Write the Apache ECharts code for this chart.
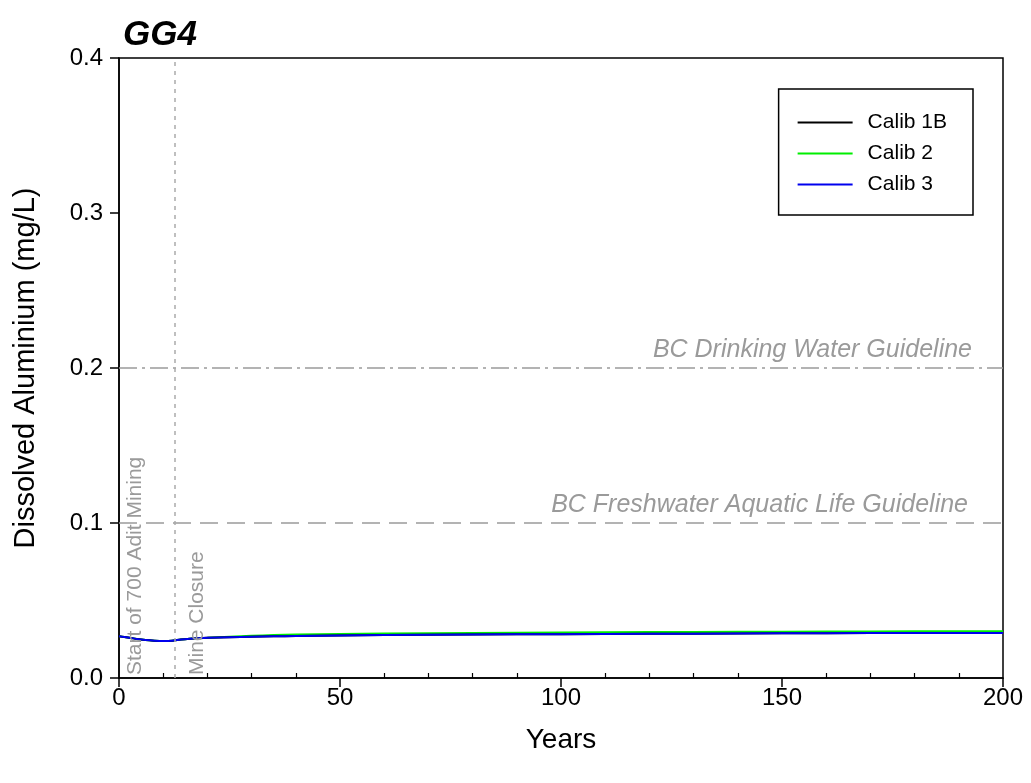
<!DOCTYPE html>
<html>
<head>
<meta charset="utf-8">
<script src="https://cdn.jsdelivr.net/npm/echarts@6/dist/echarts.min.js"></script>
<style>html,body{margin:0;padding:0;background:#fff}#c{width:1031px;height:783px}</style>
</head>
<body>
<div id="c"></div>
<script>
const years      = [0, 2, 4, 6, 8, 10, 12, 14, 16, 18, 20, 25, 30, 35, 40, 50, 60, 80, 100, 120, 140, 160, 180, 200];
const calib1B    = [0.0270, 0.0262, 0.0252, 0.0245, 0.0241, 0.0239, 0.0241, 0.0249, 0.0254, 0.0257, 0.0259, 0.0263, 0.0266, 0.0269, 0.0271, 0.0274, 0.0277, 0.0280, 0.0283, 0.0285, 0.0287, 0.0289, 0.0290, 0.0291];
const calib2     = [0.0270, 0.0262, 0.0252, 0.0245, 0.0241, 0.0239, 0.0241, 0.0249, 0.0254, 0.0257, 0.0259, 0.0266, 0.0272, 0.0277, 0.0280, 0.0284, 0.0287, 0.0291, 0.0294, 0.0296, 0.0298, 0.0300, 0.0301, 0.0302];
const calib3     = [0.0270, 0.0262, 0.0252, 0.0245, 0.0241, 0.0239, 0.0241, 0.0249, 0.0254, 0.0257, 0.0259, 0.0263, 0.0266, 0.0269, 0.0271, 0.0274, 0.0277, 0.0280, 0.0283, 0.0285, 0.0287, 0.0289, 0.0290, 0.0291];
const seriesNames = ['Calib 1B', 'Calib 2', 'Calib 3'];
const drinkingGuideline = 0.2;
const aquaticGuideline = 0.1;
const mineClosureYear = 12.5;
const startLabelYear = 3.6;
const closureLabelYear = 17.6;
const xTicks = [0, 50, 100, 150, 200];
const yTicks = [0.0, 0.1, 0.2, 0.3, 0.4];

const FONT = 'Liberation Sans, Arial, sans-serif';
const GRAY = '#9a9a9a';
const chart = echarts.init(document.getElementById('c'), null, {renderer: 'canvas'});

function pairs(vals) { return years.map((y, i) => [y, vals[i]]); }

const option = {
  animation: false,
  backgroundColor: '#fff',
  title: {
    text: 'GG4', left: 118, top: 13,
    textStyle: {fontFamily: FONT, fontSize: 35, fontWeight: 'bold', fontStyle: 'italic', color: '#000'}
  },
  grid: {left: 119, right: 28, top: 58, bottom: 105, show: true, borderColor: '#000', borderWidth: 1.5, backgroundColor: 'transparent'},
  legend: {
    data: seriesNames,
    orient: 'vertical', right: 58, top: 89,
    borderColor: '#000', borderWidth: 1.5, backgroundColor: '#fff',
    padding: [23, 26, 20, 18],
    itemWidth: 55, itemHeight: 14, itemGap: 10,
    itemStyle: {opacity: 0},
    lineStyle: {width: 2},
    textStyle: {fontFamily: FONT, fontSize: 21, lineHeight: 21, color: '#000', padding: [0, 0, 0, 10]}
  },
  xAxis: [{
    type: 'value', min: 0, max: 200, interval: 50,
    name: 'Years', nameLocation: 'middle', nameGap: 48,
    nameTextStyle: {fontFamily: FONT, fontSize: 28, color: '#000'},
    axisLine: {show: true, lineStyle: {color: '#000', width: 1.5}},
    axisTick: {show: true, length: 9, lineStyle: {color: '#000', width: 1.5}},
    axisLabel: {fontFamily: FONT, fontSize: 24, color: '#000', margin: 8, formatter: v => xTicks.includes(v) ? String(v) : ''},
    splitLine: {show: false}
  }, {
    type: 'value', min: 0, max: 200, interval: 50, position: 'bottom',
    axisLine: {show: false},
    axisTick: {show: false, inside: true},
    minorTick: {show: true, splitNumber: 5, length: 5, lineStyle: {color: '#000', width: 1.2}},
    axisLabel: {show: false},
    splitLine: {show: false}
  }],
  yAxis: {
    type: 'value', min: 0, max: 0.4, interval: 0.1,
    name: 'Dissolved Aluminium (mg/L)', nameLocation: 'middle', nameGap: 79,
    nameTextStyle: {fontFamily: FONT, fontSize: 29, color: '#000'},
    axisLine: {show: true, lineStyle: {color: '#000', width: 1.5}},
    axisTick: {show: true, length: 9, lineStyle: {color: '#000', width: 1.5}},
    axisLabel: {fontFamily: FONT, fontSize: 24, color: '#000', margin: 16, formatter: v => yTicks.some(t => Math.abs(t - v) < 1e-9) ? v.toFixed(1) : ''},
    splitLine: {show: false}
  },
  series: [
    {
      name: seriesNames[0], type: 'line', data: pairs(calib1B), symbol: 'none', smooth: 0.3,
      lineStyle: {color: '#000', width: 2}, itemStyle: {color: '#000'}, z: 3,
      markLine: {
        silent: true, symbol: 'none',
        data: [
          {yAxis: drinkingGuideline, lineStyle: {color: GRAY, type: [18, 5, 3, 5], width: 1.5},
           label: {show: true, position: 'insideEndTop', formatter: 'BC Drinking Water Guideline', fontFamily: FONT, fontSize: 25, fontStyle: 'italic', color: GRAY, distance: [31, 5]}},
          {yAxis: aquaticGuideline, lineStyle: {color: GRAY, type: [18, 9], width: 1.5},
           label: {show: true, position: 'insideEndTop', formatter: 'BC Freshwater Aquatic Life Guideline', fontFamily: FONT, fontSize: 25, fontStyle: 'italic', color: GRAY, distance: [35, 5]}},
          {xAxis: mineClosureYear, lineStyle: {color: '#aaaaaa', type: [4, 5], width: 1.5}, label: {show: false}}
        ]
      }
    },
    {
      name: seriesNames[1], type: 'line', data: pairs(calib2), symbol: 'none', smooth: 0.3,
      lineStyle: {color: '#00ee00', width: 2}, itemStyle: {color: '#00ee00'}, z: 2
    },
    {
      name: seriesNames[2], type: 'line', data: pairs(calib3), symbol: 'none', smooth: 0.3,
      lineStyle: {color: '#0000ee', width: 2}, itemStyle: {color: '#0000ee'}, z: 4
    }
  ]
};
chart.setOption(option);

const p1 = chart.convertToPixel({xAxisIndex: 0, yAxisIndex: 0}, [startLabelYear, 0]);
const p2 = chart.convertToPixel({xAxisIndex: 0, yAxisIndex: 0}, [closureLabelYear, 0]);
chart.setOption({
  graphic: [
    {type: 'text', x: p1[0], y: p1[1] - 3, rotation: Math.PI / 2,
     style: {text: 'Start of 700 Adit Mining', fontFamily: FONT, fontSize: 21, fill: GRAY, align: 'left', verticalAlign: 'middle'}, z: 10},
    {type: 'text', x: p2[0], y: p2[1] - 3, rotation: Math.PI / 2,
     style: {text: 'Mine Closure', fontFamily: FONT, fontSize: 21, fill: GRAY, align: 'left', verticalAlign: 'middle'}, z: 10}
  ]
});
</script>
</body>
</html>
